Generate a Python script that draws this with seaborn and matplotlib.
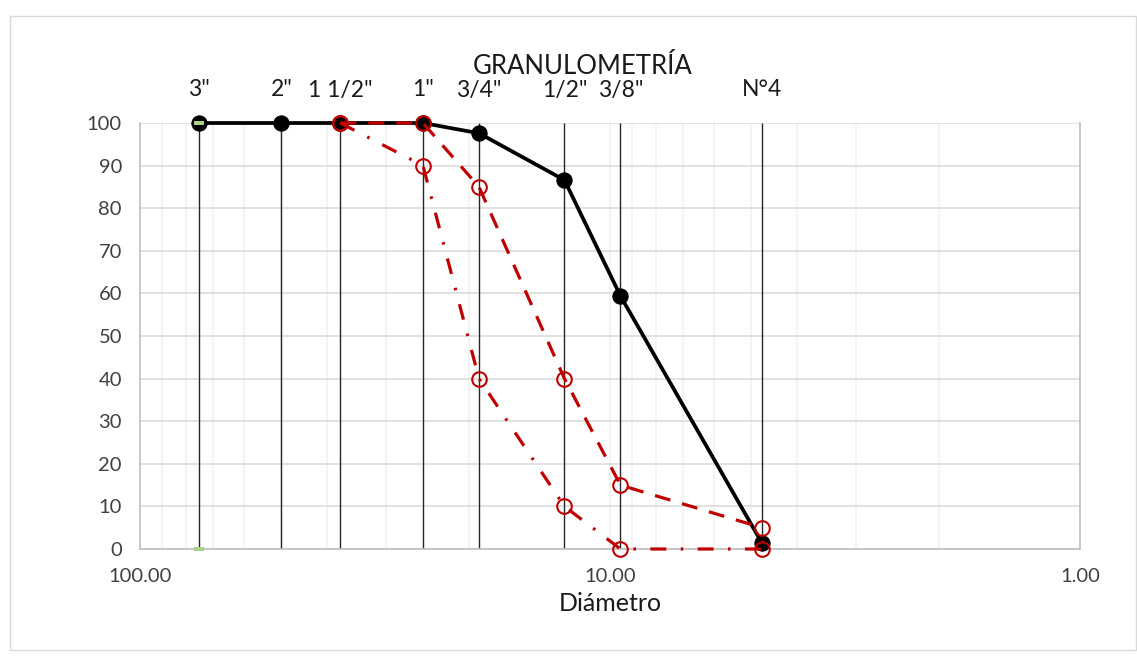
import matplotlib
matplotlib.use("Agg")
import matplotlib.pyplot as plt
import matplotlib.ticker as mticker
from matplotlib.patches import Rectangle
import matplotlib.transforms as mtransforms
import numpy as np
import pandas as pd
import seaborn as sns

# ---- data ----
sieve_labels = ['3"', '2"', '1 1/2"', '1"', '3/4"', '1/2"', '3/8"', 'N°4']
sieve_mm = [75.0, 50.0, 37.5, 25.0, 19.0, 12.5, 9.5, 4.75]
passing = [100.0, 100.0, 100.0, 100.0, 97.6, 86.6, 59.4, 1.4]

limit_mm = [37.5, 25.0, 19.0, 12.5, 9.5, 4.75]
upper_limit = [100, 100, 85, 40, 15, 5]
lower_limit = [100, 90, 40, 10, 0, 0]

green_mm = [75.0, 75.0]
green_val = [100, 0]

title = "GRANULOMETRÍA"
xlabel = "Diámetro"
xticks = [100, 10, 1]
xtick_labels = ["100.00", "10.00", "1.00"]
yticks = list(range(0, 101, 10))

sns.set_theme(style="white")
plt.rcParams['font.family'] = ['Lato', 'DejaVu Sans']

W, H = 1137, 658
fig = plt.figure(figsize=(W / 100, H / 100), dpi=100)
ax = fig.add_axes([140 / W, 1 - 549 / H, 940 / W, 426 / H])

# outer chart border
fig.patches.append(Rectangle((10 / W, 1 - 650 / H), 1126 / W, 634 / H,
                             transform=fig.transFigure, fill=False,
                             edgecolor="#D9D9D9", lw=1.0, zorder=0))

ax.set_xscale("log")
ax.set_xlim(100, 1)
ax.set_ylim(0, 100)

# grid
ax.xaxis.set_minor_locator(mticker.LogLocator(base=10, subs=np.arange(2, 10)))
ax.xaxis.set_minor_formatter(mticker.NullFormatter())
ax.set_xticks(xticks)
ax.set_xticklabels(xtick_labels)
ax.set_yticks(yticks)
ax.grid(True, which="major", axis="y", color="#D9D9D9", lw=1.1, zorder=0)
ax.grid(True, which="minor", axis="x", color="#F0F0F0", lw=1.1, zorder=0)
ax.grid(True, which="major", axis="x", color="#F0F0F0", lw=1.1, zorder=0)
ax.spines["top"].set_visible(False)
for s in ["left", "right", "bottom"]:
    ax.spines[s].set_color("#BFBFBF")
    ax.spines[s].set_linewidth(1.2)
ax.tick_params(axis="both", which="both", length=0, labelsize=14.5,
               labelcolor="#404040")
ax.tick_params(axis="x", pad=14)
ax.tick_params(axis="y", pad=13)

# sieve vertical lines
ax.vlines(sieve_mm, 0, 100, color="#262626", lw=1.0, zorder=1)

# series
black_df = pd.DataFrame({"d": sieve_mm, "p": passing})
sns.lineplot(data=black_df, x="d", y="p", ax=ax, color="black", lw=2.7,
             marker="o", markersize=11, markeredgecolor="black",
             sort=False, zorder=3, clip_on=False)

green_df = pd.DataFrame({"d": green_mm, "p": green_val})
dash_marker = [(-1, -0.4), (1, -0.4), (1, 0.4), (-1, 0.4), (-1, -0.4)]
sns.scatterplot(data=green_df, x="d", y="p", ax=ax, color="#A9D18E",
                marker=dash_marker, s=55, linewidth=0, zorder=4, clip_on=False)

up_df = pd.DataFrame({"d": limit_mm, "p": upper_limit})
sns.lineplot(data=up_df, x="d", y="p", ax=ax, color="#C00000", lw=2.3,
             linestyle=(0, (5, 3.8)), marker="o", markersize=10.5,
             markerfacecolor="none", markeredgecolor="#C00000",
             markeredgewidth=1.5, sort=False, zorder=5, clip_on=False)

lo_df = pd.DataFrame({"d": limit_mm, "p": lower_limit})
sns.lineplot(data=lo_df, x="d", y="p", ax=ax, color="#C00000", lw=2.3,
             linestyle=(0, (5, 4.5, 0.8, 4.5)), marker="o", markersize=10.5,
             markerfacecolor="none", markeredgecolor="#C00000",
             markeredgewidth=1.5, sort=False, zorder=5, clip_on=False)

ax.set_ylabel("")
ax.set_xlabel(xlabel, fontsize=18, color="#1a1a1a", labelpad=5)

# sieve labels above the plot
trans = mtransforms.blended_transform_factory(ax.transData, fig.transFigure)
for lab, d in zip(sieve_labels, sieve_mm):
    ax.text(d, 1 - 90 / H, lab, transform=trans, ha="center", va="center",
            fontsize=16.5, color="#1a1a1a")

fig.text(583 / W, 1 - 66 / H, title, ha="center", va="center",
         fontsize=18.5, color="#1a1a1a")

fig.savefig("out.png", dpi=100, facecolor="white")
